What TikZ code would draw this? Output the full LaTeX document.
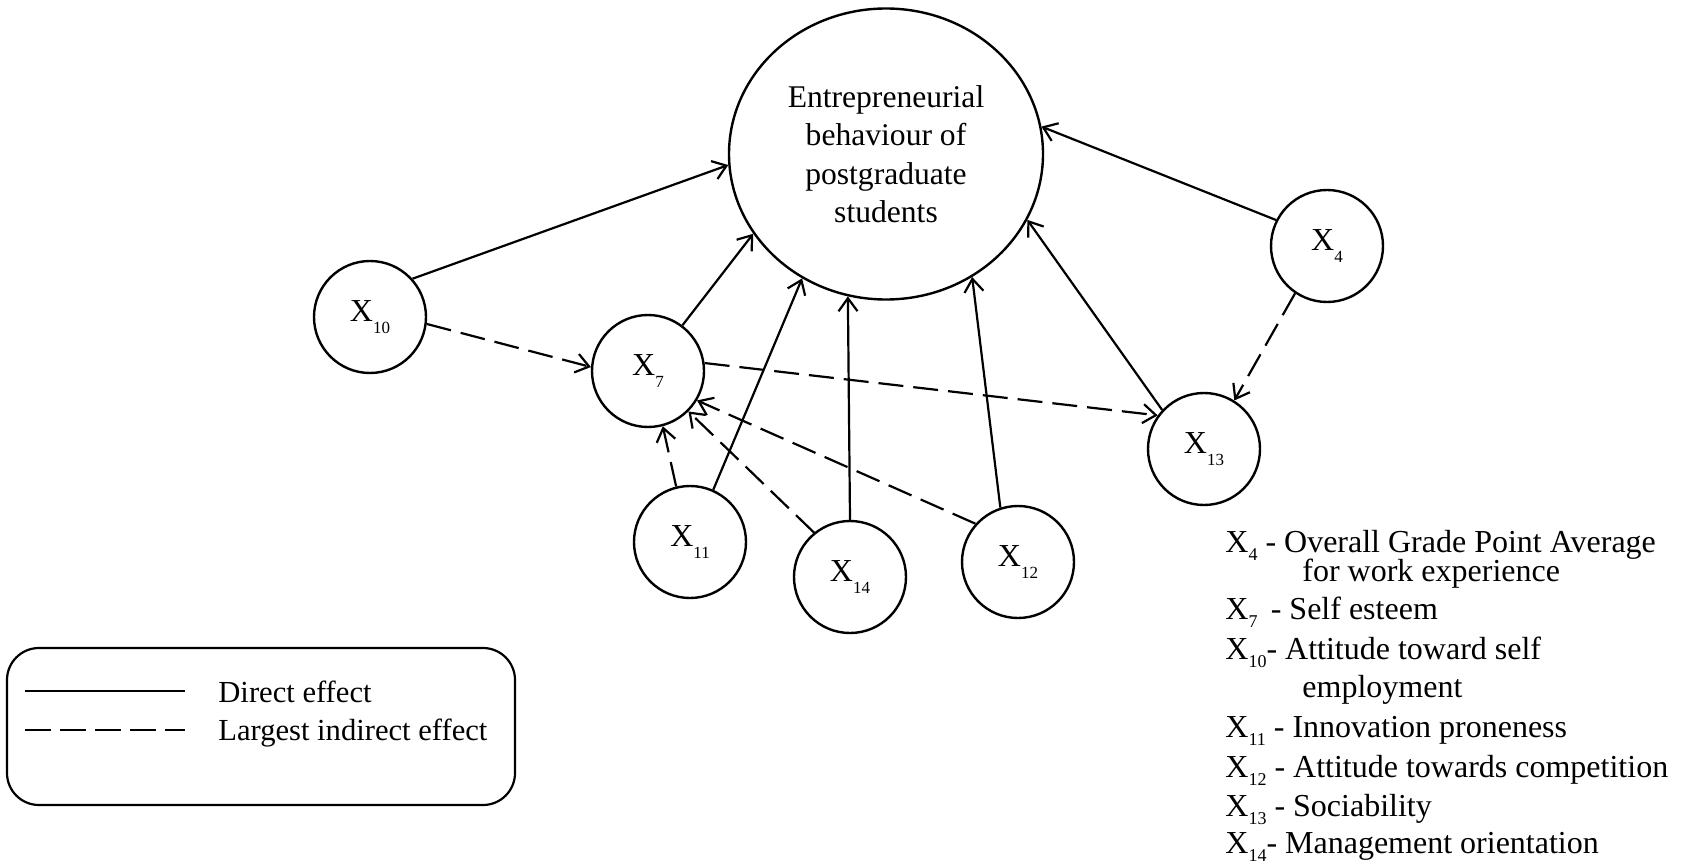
\documentclass[tikz,border=0pt]{standalone}
\usepackage{fontspec}
\setmainfont{Liberation Serif}
\usetikzlibrary{arrows.meta,shapes.geometric}
% lowered subscripts for the variable names
\newcommand{\nsub}[1]{\raisebox{-5.8pt}{\fontsize{8.5}{8.5}\selectfont #1}}
\newcommand{\lsub}[1]{\raisebox{-4pt}{\fontsize{9}{9}\selectfont #1}}

\begin{document}
\begin{tikzpicture}[x=0.5pt,y=-0.5pt,
  var/.style={circle,draw,line width=1.2pt,minimum size=56pt,inner sep=0pt,
    font=\fontsize{16}{19}\selectfont},
  outcome/.style={ellipse,draw,line width=1.2pt,minimum width=157pt,
    minimum height=145.5pt,inner sep=0pt,align=center,
    font=\fontsize{15.8}{19.2}\selectfont},
  direct/.style={line width=1.1pt,-{Straight Barb[length=6.5pt,width=9.5pt]}},
  indirect/.style={direct,dash pattern=on 12.5pt off 5pt},
  keyline/.style={line width=1.1pt},
  keydash/.style={line width=1.1pt,dash pattern=on 13pt off 4.5pt},
  keytext/.style={anchor=base west,inner sep=0pt,font=\fontsize{15.3}{18}\selectfont},
  deftext/.style={anchor=base west,inner sep=0pt,font=\fontsize{16}{19}\selectfont}]

\useasboundingbox (0,0) rectangle (1697,866);

% outcome and explanatory variables
\node[outcome] (ebh) at (886,154) {Entrepreneurial\\behaviour of\\postgraduate\\students};
\node[var] (x10) at (370,317) {X\nsub{10}};
\node[var] (x7)  at (648,371) {X\nsub{7}};
\node[var] (x4)  at (1327,246) {X\nsub{4}};
\node[var] (x13) at (1204,449) {X\nsub{13}};
\node[var] (x11) at (690,542) {X\nsub{11}};
\node[var] (x14) at (850,577) {X\nsub{14}};
\node[var] (x12) at (1018,562) {X\nsub{12}};

% direct effects
\draw[direct] (x10.42)  -- (ebh.184.5);
\draw[direct] (x4.153)  -- (ebh.10.5);
\draw[direct] (x7.53)   -- (ebh.211.7);
\draw[direct] (x11.66)  -- (ebh.236);
\draw[direct] (x14.90)  -- (ebh.255.6);
\draw[direct] (x12.108) -- (ebh.305.4);
\draw[direct] (x13.137) -- (ebh.335.7);

% largest indirect effects
\draw[indirect] (x10.353) -- (x7.176);
\draw[indirect] (x7.8)    -- (x13.144);
\draw[indirect] (x4.236)  -- (x13.58);
\draw[indirect] (x11.104) -- (x7.285);
\draw[indirect] (x14.129) -- (x7.315);
\draw[indirect] (x12.138) -- (x7.329);

% key
\node[draw,line width=1.1pt,rounded corners=16pt,minimum width=254pt,
  minimum height=78.5pt,inner sep=0pt] (key) at (261,726.5) {};
\coordinate (d1) at (25,691);
\coordinate (d2) at (185,691);
\coordinate (i1) at (25,730);
\coordinate (i2) at (185,730);
\draw[keyline] (d1) -- (d2);
\draw[keydash] (i1) -- (i2);
\node[keytext] (kdirect) at (218,702) {Direct effect};
\node[keytext] (kindirect) at (218,740) {Largest indirect effect};

% variable definitions
\node[deftext] (def4)  at (1225,552) {X\lsub{4} - Overall Grade Point Average};
\node[deftext] (def4b) at (1302,581) {for work experience};
\node[deftext] (def7)  at (1225,619) {X\lsub{7} \,- Self esteem};
\node[deftext] (def10) at (1225,659) {X\lsub{10}- Attitude toward self};
\node[deftext] (def10b) at (1302,697) {employment};
\node[deftext] (def11) at (1225,737) {X\lsub{11} - Innovation proneness};
\node[deftext] (def12) at (1225,777) {X\lsub{12} - Attitude towards competition};
\node[deftext] (def13) at (1225,816) {X\lsub{13} - Sociability};
\node[deftext] (def14) at (1225,853) {X\lsub{14}- Management orientation};
\end{tikzpicture}
\end{document}
